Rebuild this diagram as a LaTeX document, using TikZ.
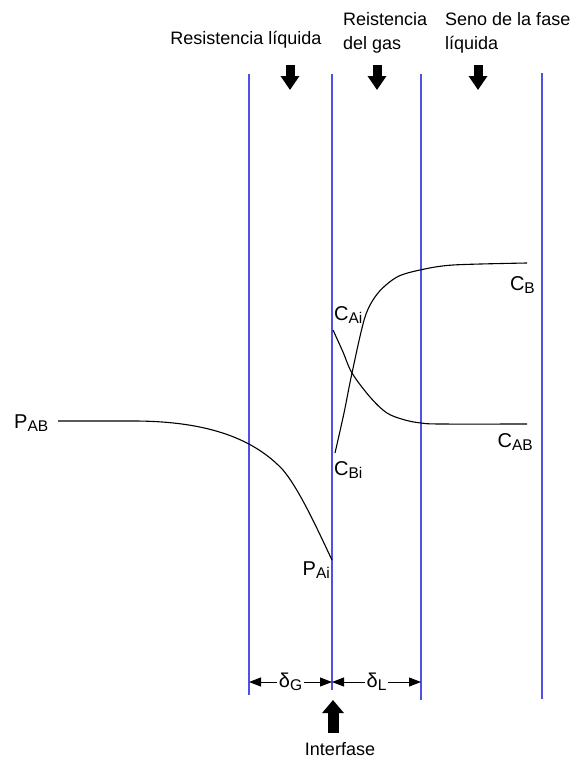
\documentclass[tikz,border=0pt]{standalone}
\usepackage{fontspec}
\setmainfont{Liberation Sans}
\usetikzlibrary{arrows.meta}
\definecolor{filmblue}{RGB}{80,80,228}
\newcommand{\lbl}[2]{#1\raisebox{-0.3ex}{\fontsize{15.5}{15.5}\selectfont #2}}
\begin{document}
\begin{tikzpicture}[x=1pt,y=-1pt,
  film/.style={draw=filmblue, line width=1.3pt},
  curve/.style={draw=black, line width=1.1pt},
  lab/.style={font=\fontsize{20}{20}\selectfont, inner sep=0pt},
  head/.style={font=\fontsize{18}{24}\selectfont, inner sep=0pt, align=left},
  blockarrow/.style={line width=9pt, -{Triangle[width=18pt,length=14pt]}},
  bigarrow/.style={line width=11pt, -{Triangle[width=21pt,length=13pt]}},
  dimline/.style={line width=1pt, {Triangle[width=9pt,length=12pt]}-{Triangle[width=9pt,length=12pt]}},
  dimlab/.style={font=\fontsize{20}{20}\selectfont, fill=white, inner sep=2pt}]
\useasboundingbox (0,0) rectangle (578,760);

% film boundaries
\coordinate (L1t) at (249,74); \coordinate (L1b) at (249,695);
\coordinate (L2t) at (332,74); \coordinate (L2b) at (332,690);
\coordinate (L3t) at (421,74); \coordinate (L3b) at (421,700);
\coordinate (L4t) at (542,73); \coordinate (L4b) at (542,699);
\draw[film] (L1t) -- (L1b);
\draw[film] (L2t) -- (L2b);
\draw[film] (L3t) -- (L3b);
\draw[film] (L4t) -- (L4b);

% headings
\node[head, anchor=base] (h1) at (246,45) {Resistencia líquida};
\node[head, anchor=north west] (h2) at (343,12) {Reistencia\\del gas};
\node[head, anchor=north west] (h3) at (445,12) {Seno de la fase\\líquida};

% block arrows
\coordinate (a1s) at (290,65); \coordinate (a1e) at (290,90);
\coordinate (a2s) at (377,65); \coordinate (a2e) at (377,90);
\coordinate (a3s) at (478,65); \coordinate (a3e) at (478,90);
\draw[blockarrow] (a1s) -- (a1e);
\draw[blockarrow] (a2s) -- (a2e);
\draw[blockarrow] (a3s) -- (a3e);

% profiles
\coordinate (p0) at (58,421);
\coordinate (p1) at (133,421);
\coordinate (p2) at (283,470);
\coordinate (p3) at (332,560);
\draw[curve] (p0) -- (p1) .. controls (210,421) and (255,440) .. (p2)
  .. controls (300,490) and (320,535) .. (p3);
\draw[curve] plot[smooth, tension=0.55] coordinates {(333,330) (343,352) (352,373) (370,397) (387,413) (405,420) (421,423) (440,424) (527,424)};
\draw[curve] plot[smooth, tension=0.5] coordinates {(335,453) (344,413) (352,373) (365,317) (378,293) (397,277) (420,270) (453,265) (527,263)};

% labels
\node[lab, anchor=base west] (pab) at (14,428) {\lbl{P}{AB}};
\node[lab, anchor=base east] (pai) at (330,575) {\lbl{P}{Ai}};
\node[lab, anchor=base west] (cai) at (334,320) {\lbl{C}{Ai}};
\node[lab, anchor=base west] (cbi) at (334,475) {\lbl{C}{Bi}};
\node[lab, anchor=base east] (cb) at (535,290) {\lbl{C}{B}};
\node[lab, anchor=base east] (cab) at (533,447) {\lbl{C}{AB}};

% film thickness dimensions
\coordinate (d1) at (249,682); \coordinate (d2) at (332,682); \coordinate (d3) at (421,682);
\draw[dimline] (d1) -- node[dimlab] (dg) {\lbl{δ}{G}} (d2);
\draw[dimline] (d2) -- node[dimlab] (dl) {\lbl{δ}{L}} (d3);

% interface arrow
\coordinate (ia) at (333,733); \coordinate (ib) at (333,700);
\draw[bigarrow] (ia) -- (ib);
\node[head, anchor=base] (intf) at (340,755) {Interfase};
\end{tikzpicture}
\end{document}
